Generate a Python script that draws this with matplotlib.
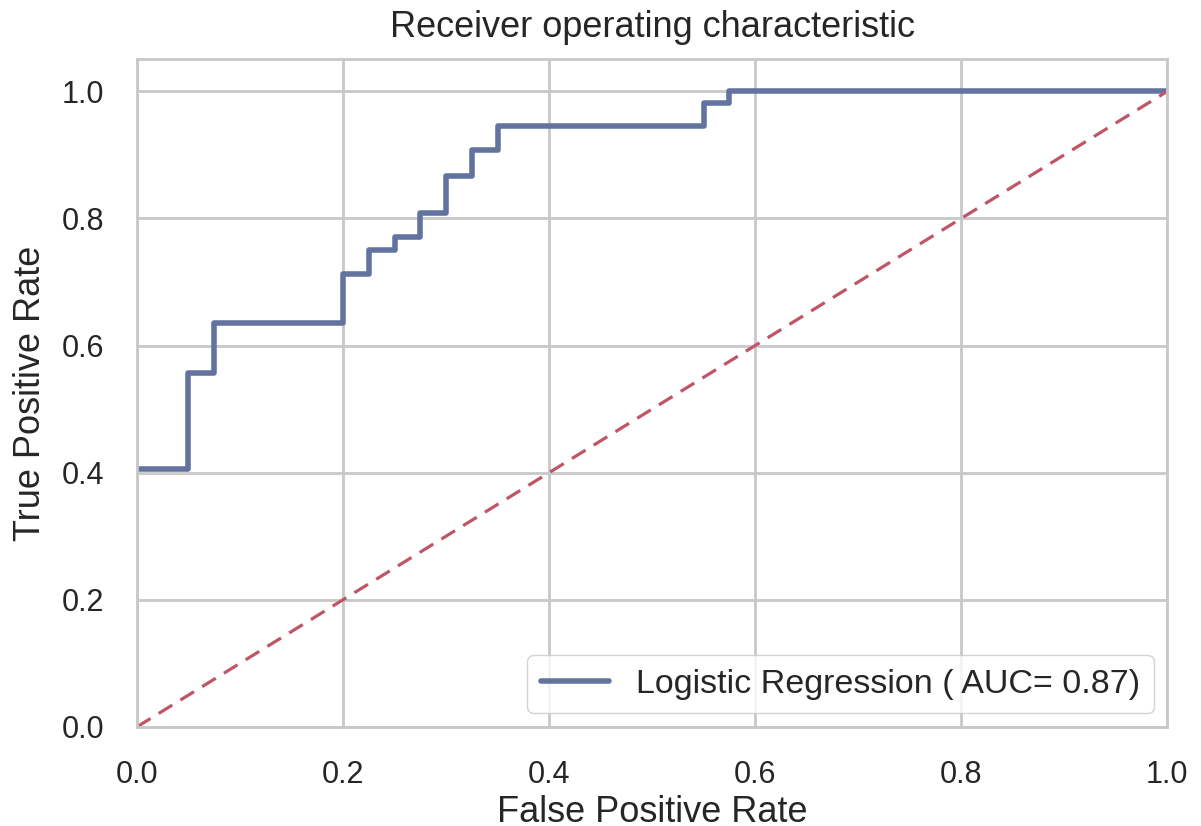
import matplotlib
matplotlib.use('Agg')
import matplotlib.pyplot as plt
import seaborn as sns

sns.set_style('whitegrid')
plt.rcParams['font.family'] = ['Liberation Sans', 'DejaVu Sans']

# ROC curve
fpr = [0.0, 0.05, 0.05, 0.075, 0.075, 0.2, 0.2, 0.225, 0.225, 0.25, 0.25,
       0.275, 0.275, 0.3, 0.3, 0.325, 0.325, 0.35, 0.35, 0.55, 0.55, 0.575, 0.575, 1.0]
tpr = [0.405, 0.405, 0.557, 0.557, 0.636, 0.636, 0.713, 0.713, 0.750, 0.750, 0.770,
       0.770, 0.808, 0.808, 0.867, 0.867, 0.907, 0.907, 0.945, 0.945, 0.982, 0.982, 1.0, 1.0]
auc = 0.87
diag = [0, 1]

fig = plt.figure(figsize=(12.01, 8.26), dpi=100)
ax = fig.add_axes([0.114, 0.12, 0.858, 0.808])
ax.plot(fpr, tpr, color='#62739f', lw=4, label='Logistic Regression ( AUC= %0.2f)' % auc)
ax.plot(diag, diag, '--', color='#c05565', lw=2.3, dashes=(5, 3))
ax.set_xlim([0.0, 1.0])
ax.set_ylim([0.0, 1.05])
ax.set_xlabel('False Positive Rate', fontsize=26, labelpad=4)
ax.set_ylabel('True Positive Rate', fontsize=26, labelpad=10)
ax.set_title('Receiver operating characteristic', fontsize=26, pad=16)
ax.tick_params(labelsize=22, pad=20)
for s in ax.spines.values():
    s.set_color('#c8c8c8')
    s.set_linewidth(2)
ax.grid(color='#c8c8c8', lw=2)
ax.legend(loc='lower right', fontsize=24.5, frameon=True, edgecolor='#c8c8c8',
          borderaxespad=0.4)

fig.savefig('out.png', dpi=100)
